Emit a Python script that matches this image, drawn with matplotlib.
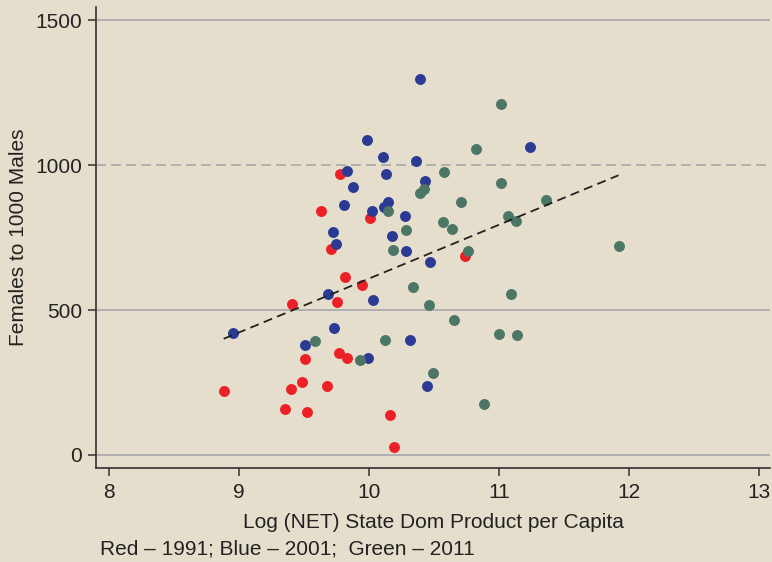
import numpy as np
import matplotlib
matplotlib.use("Agg")
import matplotlib.pyplot as plt

plt.rcParams['font.family'] = ['Liberation Sans', 'DejaVu Sans']

# Данные: логарифм душевого продукта штата и число женщин на 1000 мужчин
x_1991 = [9.777, 9.633, 10.01, 9.708, 9.813, 9.944, 9.754, 9.41, 9.505, 9.772,
          9.833, 8.882, 9.397, 9.485, 9.677, 9.356, 9.523, 10.162, 10.195, 10.736]
y_1991 = [968, 843, 819, 712, 615, 586, 526, 522, 332, 352,
          335, 220, 229, 251, 238, 159, 147, 137, 27, 686]

x_2001 = [10.105, 9.833, 10.128, 9.879, 10.148, 10.113, 9.805, 10.023, 9.723, 10.175,
          9.748, 9.687, 10.033, 8.952, 9.733, 9.505, 9.995, 10.395, 10.362, 10.428,
          11.241, 10.279, 10.282, 10.469, 10.315, 10.444, 9.982]
y_2001 = [1027, 979, 969, 926, 874, 857, 863, 841, 769, 754,
          729, 554, 534, 419, 438, 381, 335, 1296, 1015, 945,
          1064, 824, 705, 666, 395, 239, 1086]

x_2011 = [10.143, 10.187, 9.587, 10.123, 9.933, 11.013, 10.821, 10.577, 10.425, 10.395,
          11.013, 10.708, 11.362, 10.569, 10.638, 11.069, 11.131, 10.286, 10.764, 10.336,
          11.095, 10.459, 10.654, 11.002, 11.136, 10.492, 10.882, 11.92]
y_2011 = [840, 706, 392, 395, 328, 1210, 1057, 975, 919, 903,
          937, 874, 878, 802, 781, 825, 807, 777, 705, 578,
          554, 518, 464, 417, 415, 281, 176, 722]

y_ticks = [0, 500, 1000, 1500]
x_ticks = [8, 9, 10, 11, 12, 13]

bg = '#E6DECD'
fs = 15
fig = plt.figure(figsize=(7.72, 5.62), dpi=100, facecolor=bg)
ax = fig.add_axes([0.1244, 0.1678, 0.8730, 0.8206], facecolor=bg)

# Горизонтальные линии сетки (1000 — пунктир)
for yv in y_ticks:
    ax.axhline(yv, color='#A9A9A9', lw=1.2,
               ls=(0, (6, 3)) if yv == 1000 else '-', zorder=1)

ax.scatter(x_1991, y_1991, s=62, color='#EC2027', lw=0, zorder=3)
ax.scatter(x_2001, y_2001, s=62, color='#2B3A92', lw=0, zorder=3)
ax.scatter(x_2011, y_2011, s=62, color='#4B7564', lw=0, zorder=3)

# Линия регрессии по всем точкам
all_x = np.array(x_1991 + x_2001 + x_2011)
all_y = np.array(y_1991 + y_2001 + y_2011)
k, b = np.polyfit(all_x, all_y, 1)
fx = np.array([all_x.min(), all_x.max()])
ax.plot(fx, k * fx + b, color='#222222', lw=1.3, ls=(0, (5, 3)), zorder=4)

ax.set_xlim(7.9, 13.085)
ax.set_ylim(-44, 1547)
ax.set_xticks(x_ticks)
ax.set_yticks(y_ticks)
ax.tick_params(axis='both', direction='out', length=5.8, width=1.1,
               colors='#333333', labelsize=fs, labelcolor='#222222')
ax.tick_params(axis='x', pad=5)
ax.tick_params(axis='y', pad=4.3)
for side in ['top', 'right']:
    ax.spines[side].set_visible(False)
for side in ['left', 'bottom']:
    ax.spines[side].set_color('#333333')
    ax.spines[side].set_linewidth(1.2)

ax.set_xlabel('Log (NET) State Dom Product per Capita', fontsize=fs,
              color='#222222', labelpad=8)
ax.set_ylabel('Females to 1000 Males', fontsize=fs, color='#222222', labelpad=5)

fig.text(100 / 772, 1 - 549 / 562, 'Red – 1991; Blue – 2001;  Green – 2011',
         fontsize=fs, color='#222222', va='center', ha='left')

fig.savefig('out.png', dpi=100, facecolor=bg)
